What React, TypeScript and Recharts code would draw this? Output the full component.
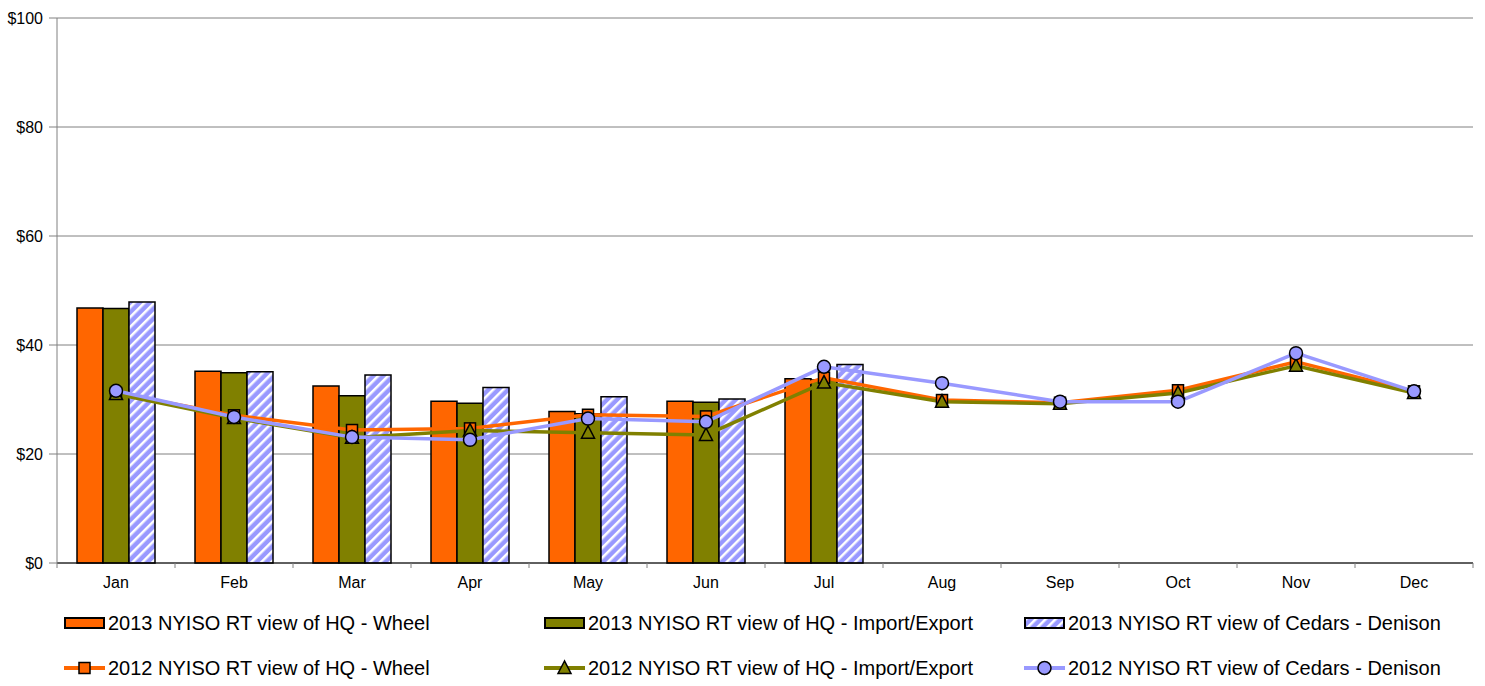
import React from "react";
import { Bar, CartesianGrid, ComposedChart, Line, XAxis, YAxis } from "recharts";

const months = ["Jan", "Feb", "Mar", "Apr", "May", "Jun", "Jul", "Aug", "Sep", "Oct", "Nov", "Dec"];

// 2013 monthly values (bars), only Jan-Jul reported
const wheel2013 = [46.8, 35.2, 32.5, 29.7, 27.8, 29.7, 33.8, null, null, null, null, null];
const importExport2013 = [46.7, 34.9, 30.7, 29.3, 27.4, 29.5, 33.6, null, null, null, null, null];
const cedars2013 = [47.9, 35.1, 34.5, 32.2, 30.5, 30.1, 36.4, null, null, null, null, null];

// 2012 monthly values (lines)
const wheel2012 = [31.2, 27.1, 24.4, 24.7, 27.2, 26.9, 34.0, 29.9, 29.4, 31.7, 36.9, 31.5];
const importExport2012 = [31.0, 26.6, 23.0, 24.3, 23.9, 23.5, 33.1, 29.6, 29.2, 31.2, 36.2, 31.2];
const cedars2012 = [31.6, 26.8, 23.1, 22.6, 26.5, 25.9, 36.0, 33.0, 29.6, 29.6, 38.5, 31.5];

const yTicks = [0, 20, 40, 60, 80, 100];

const names = {
  w13: "2013 NYISO RT view of HQ - Wheel",
  ie13: "2013 NYISO RT view of HQ - Import/Export",
  c13: "2013 NYISO RT view of Cedars - Denison",
  w12: "2012 NYISO RT view of HQ - Wheel",
  ie12: "2012 NYISO RT view of HQ - Import/Export",
  c12: "2012 NYISO RT view of Cedars - Denison",
};

const ORANGE = "#FF6600";
const OLIVE = "#808000";
const LAVENDER = "#9999FF";
const GRID = "#808080";
const FONT = "'Liberation Sans', Arial, sans-serif";

const data = months.map((m, i) => ({
  month: m,
  w13: wheel2013[i],
  ie13: importExport2013[i],
  c13: cedars2013[i],
  w12: wheel2012[i],
  ie12: importExport2012[i],
  c12: cedars2012[i],
}));

function squareDot(p: any) {
  if (p.cy == null) return <g key={p.index} />;
  return <rect key={p.index} x={p.cx - 5.5} y={p.cy - 5.5} width={11} height={11} fill={ORANGE} stroke="#000" strokeWidth={1.5} />;
}

function triangleDot(p: any) {
  if (p.cy == null) return <g key={p.index} />;
  const { cx, cy } = p;
  return (
    <polygon
      key={p.index}
      points={`${cx},${cy - 7} ${cx - 6.5},${cy + 5.5} ${cx + 6.5},${cy + 5.5}`}
      fill={OLIVE}
      stroke="#000"
      strokeWidth={1.5}
    />
  );
}

function circleDot(p: any) {
  if (p.cy == null) return <g key={p.index} />;
  return <circle key={p.index} cx={p.cx} cy={p.cy} r={6.5} fill={LAVENDER} stroke="#000" strokeWidth={1.5} />;
}

function MonthTick(props: any) {
  const { x, y, payload, index } = props;
  const half = payload && payload.offset ? payload.offset : 59;
  return (
    <g>
      <line x1={x - half} x2={x - half} y1={y} y2={y + 5} stroke={GRID} />
      {index === months.length - 1 && <line x1={x + half} x2={x + half} y1={y} y2={y + 5} stroke={GRID} />}
      <text x={x} y={y + 25} textAnchor="middle" fontSize={16} fontFamily={FONT} fill="#000">
        {payload.value}
      </text>
    </g>
  );
}

function Legend() {
  const cols = [65, 545, 1025];
  const rowY = [623, 668];
  const txt = (x: number, y: number, s: string) => (
    <text x={x + 43} y={y} dy="0.36em" fontSize={20} fontFamily={FONT} fill="#000">
      {s}
    </text>
  );
  return (
    <svg width={1485} height={686} style={{ position: "absolute", left: 0, top: 0, pointerEvents: "none" }}>
      <rect x={cols[0]} y={rowY[0] - 5} width={39} height={10} fill={ORANGE} stroke="#000" strokeWidth={2} />
      {txt(cols[0], rowY[0], names.w13)}
      <rect x={cols[1]} y={rowY[0] - 5} width={39} height={10} fill={OLIVE} stroke="#000" strokeWidth={2} />
      {txt(cols[1], rowY[0], names.ie13)}
      <rect x={cols[2]} y={rowY[0] - 5} width={39} height={10} fill="url(#hatch)" stroke="#000" strokeWidth={2} />
      {txt(cols[2], rowY[0], names.c13)}

      <line x1={cols[0] - 1} x2={cols[0] + 40} y1={rowY[1]} y2={rowY[1]} stroke={ORANGE} strokeWidth={4} />
      {squareDot({ cx: cols[0] + 19.5, cy: rowY[1], index: "l1" })}
      {txt(cols[0], rowY[1], names.w12)}
      <line x1={cols[1] - 1} x2={cols[1] + 40} y1={rowY[1]} y2={rowY[1]} stroke={OLIVE} strokeWidth={4} />
      {triangleDot({ cx: cols[1] + 19.5, cy: rowY[1], index: "l2" })}
      {txt(cols[1], rowY[1], names.ie12)}
      <line x1={cols[2] - 1} x2={cols[2] + 40} y1={rowY[1]} y2={rowY[1]} stroke={LAVENDER} strokeWidth={4} />
      {circleDot({ cx: cols[2] + 19.5, cy: rowY[1], index: "l3" })}
      {txt(cols[2], rowY[1], names.c12)}
    </svg>
  );
}

export default function App() {
  return (
    <div style={{ position: "absolute", left: 0, top: 0, width: 1485, height: 686, background: "#fff" }}>
      <svg width={0} height={0} style={{ position: "absolute" }}>
        <defs>
          <pattern id="hatch" patternUnits="userSpaceOnUse" width={7} height={7} patternTransform="rotate(45)">
            <rect width={7} height={7} fill={LAVENDER} />
            <rect width={2.5} height={7} fill="#fff" />
          </pattern>
        </defs>
      </svg>
      <ComposedChart
        width={1485}
        height={686}
        data={data}
        margin={{ top: 18, right: 12, bottom: 93, left: 0 }}
        barGap={0}
        barCategoryGap={20}
      >
        <CartesianGrid vertical={false} stroke={GRID} />
        <XAxis
          dataKey="month"
          height={30}
          tickSize={0}
          tickMargin={0}
          tickLine={false}
          axisLine={{ stroke: "#000" }}
          tick={<MonthTick />}
          interval={0}
        />
        <YAxis
          width={57}
          domain={[0, 100]}
          ticks={yTicks}
          tickFormatter={(v) => `$${v}`}
          axisLine={{ stroke: GRID }}
          tickLine={{ stroke: GRID }}
          tickSize={8}
          tickMargin={6}
          tick={{ fontSize: 16, fontFamily: FONT, fill: "#000" }}
        />
        <YAxis
          yAxisId="border"
          orientation="right"
          width={0}
          domain={[0, 100]}
          tick={false}
          tickLine={false}
          axisLine={{ stroke: GRID }}
        />
        <Bar dataKey="w13" name={names.w13} fill={ORANGE} stroke="#000" strokeWidth={1.5} barSize={26} isAnimationActive={false} />
        <Bar dataKey="ie13" name={names.ie13} fill={OLIVE} stroke="#000" strokeWidth={1.5} barSize={26} isAnimationActive={false} />
        <Bar dataKey="c13" name={names.c13} fill="url(#hatch)" stroke="#000" strokeWidth={1.5} barSize={26} isAnimationActive={false} />
        <Line dataKey="w12" name={names.w12} stroke={ORANGE} strokeWidth={3.5} dot={squareDot} activeDot={false} isAnimationActive={false} />
        <Line dataKey="ie12" name={names.ie12} stroke={OLIVE} strokeWidth={3.5} dot={triangleDot} activeDot={false} isAnimationActive={false} />
        <Line dataKey="c12" name={names.c12} stroke={LAVENDER} strokeWidth={3.5} dot={circleDot} activeDot={false} isAnimationActive={false} />
      </ComposedChart>
      <Legend />
    </div>
  );
}
